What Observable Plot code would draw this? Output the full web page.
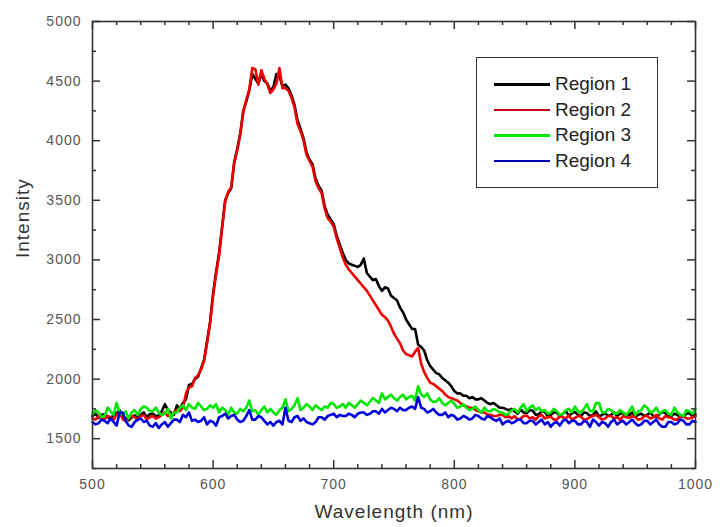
<!DOCTYPE html>
<html>
<head>
<meta charset="utf-8">
<script src="https://cdn.jsdelivr.net/npm/d3@7"></script>
<script src="https://cdn.jsdelivr.net/npm/@observablehq/plot@0.6"></script>
<style>
  body { margin: 0; background: #fff; }
  #wrap { position: relative; width: 720px; height: 527px; }
  #legend {
    position: absolute; left: 476px; top: 57px; width: 182px; height: 131px;
    border: 1.5px solid #333; background: #fff; box-sizing: border-box;
    font-family: "Liberation Sans", Arial, sans-serif; font-size: 19px; color: #222;
  }
  .row { position: absolute; left: 0; height: 24px; width: 100%; }
  .row .sw { position: absolute; left: 17px; top: 11px; width: 56px; height: 2.5px; }
  .row .lb { position: absolute; left: 78px; top: 0; line-height: 24px; }
</style>
</head>
<body>
<div id="wrap"><div id="chart"></div><div id="legend"></div></div>
<script>
// Wavelength grid (nm), 2.5 nm sampling
const wavelength = d3.range(500, 1001, 2.5);

const seriesNames = ["Region 1", "Region 2", "Region 3", "Region 4"];
const seriesColors = ["#000000", "#ee0000", "#00e600", "#0000dd"];
const legendColors = ["#000000", "#c00018", "#00e600", "#0000b0"];

// each row = 25 nm (10 samples)
const region1 = [
  1690, 1710, 1675, 1700, 1705, 1680, 1665, 1700, 1715, 1740,
  1690, 1670, 1655, 1680, 1695, 1670, 1700, 1720, 1680, 1705,
  1710, 1690, 1695, 1730, 1790, 1740, 1720, 1700, 1780, 1750,
  1800, 1830, 1950, 1960, 2000, 2020, 2090, 2160, 2320, 2480,
  2720, 2900, 3060, 3280, 3500, 3560, 3600, 3820, 3930, 4060,
  4250, 4330, 4420, 4560, 4520, 4480, 4560, 4500, 4480, 4420,
  4450, 4560, 4540, 4460, 4470, 4440, 4380, 4300, 4170, 4100,
  4020, 3900, 3840, 3800, 3680, 3620, 3580, 3450, 3380, 3340,
  3300, 3200, 3130, 3060, 3000, 2970, 2960, 2950, 2940, 2960,
  3010, 2890, 2860, 2830, 2840, 2780, 2740, 2770, 2760, 2700,
  2680, 2660, 2600, 2560, 2500, 2460, 2420, 2420, 2290, 2270,
  2240, 2160, 2110, 2080, 2050, 2040, 2010, 1990, 1970, 1940,
  1900, 1880, 1880, 1860, 1860, 1840, 1850, 1830, 1830, 1840,
  1820, 1800, 1790, 1800, 1780, 1760, 1760, 1750, 1740, 1750,
  1730, 1710, 1745, 1720, 1715, 1740, 1735, 1700, 1705, 1730,
  1725, 1690, 1700, 1720, 1720, 1690, 1710, 1730, 1695, 1710,
  1725, 1700, 1690, 1720, 1715, 1690, 1700, 1730, 1685, 1700,
  1715, 1690, 1700, 1720, 1690, 1710, 1715, 1690, 1700, 1720,
  1685, 1700, 1710, 1690, 1700, 1720, 1690, 1680, 1705, 1725,
  1715, 1690, 1690, 1710, 1700, 1680, 1685, 1710, 1715, 1690,
  1705
];
const region2 = [
  1670, 1660, 1690, 1675, 1665, 1690, 1680, 1660, 1700, 1720,
  1665, 1650, 1670, 1690, 1680, 1660, 1690, 1700, 1660, 1680,
  1690, 1670, 1680, 1700, 1720, 1690, 1700, 1720, 1740, 1730,
  1760, 1880, 1930, 1940, 2010, 2030, 2080, 2150, 2300, 2470,
  2700, 2880, 3040, 3270, 3490, 3570, 3610, 3810, 3920, 4050,
  4240, 4340, 4430, 4610, 4600, 4470, 4590, 4520, 4470, 4400,
  4430, 4480, 4610, 4440, 4440, 4420, 4360, 4280, 4140, 4080,
  4000, 3880, 3830, 3780, 3660, 3600, 3560, 3430, 3350, 3320,
  3280, 3180, 3100, 3020, 2960, 2920, 2890, 2860, 2830, 2800,
  2770, 2740, 2700, 2660, 2620, 2580, 2540, 2520, 2490, 2440,
  2380, 2340, 2300, 2240, 2210, 2200, 2190, 2230, 2260, 2130,
  2060, 2010, 1970, 1960, 1940, 1920, 1900, 1870, 1850, 1840,
  1830, 1820, 1800, 1780, 1770, 1760, 1760, 1740, 1730, 1720,
  1720, 1700, 1700, 1690, 1690, 1700, 1700, 1680, 1690, 1670,
  1690, 1660, 1670, 1690, 1695, 1670, 1680, 1660, 1690, 1700,
  1670, 1680, 1685, 1660, 1660, 1690, 1680, 1670, 1695, 1660,
  1675, 1690, 1685, 1660, 1665, 1680, 1690, 1700, 1680, 1660,
  1670, 1690, 1690, 1670, 1680, 1660, 1690, 1680, 1675, 1690,
  1680, 1660, 1665, 1690, 1690, 1670, 1680, 1700, 1670, 1660,
  1690, 1680, 1675, 1660, 1660, 1690, 1685, 1670, 1670, 1680,
  1690
];
const region3 = [
  1700, 1740, 1720, 1680, 1690, 1760, 1730, 1700, 1800, 1720,
  1700, 1730, 1670, 1720, 1740, 1700, 1750, 1770, 1760, 1730,
  1730, 1760, 1720, 1700, 1710, 1750, 1670, 1720, 1720, 1760,
  1780, 1740, 1790, 1760, 1750, 1800, 1770, 1740, 1750, 1780,
  1760, 1790, 1720, 1760, 1740, 1700, 1760, 1720, 1710, 1750,
  1730, 1760, 1820, 1730, 1740, 1700, 1740, 1770, 1720, 1750,
  1720, 1700, 1740, 1760, 1830, 1730, 1750, 1780, 1840, 1740,
  1760, 1790, 1770, 1740, 1780, 1760, 1740, 1770, 1760, 1800,
  1790, 1760, 1770, 1790, 1760, 1800, 1780, 1760, 1790, 1820,
  1800, 1780, 1810, 1840, 1820, 1800, 1880, 1830, 1850, 1870,
  1840, 1820, 1850, 1870, 1830, 1850, 1860, 1820, 1940, 1870,
  1850, 1880, 1830, 1810, 1810, 1840, 1800, 1780, 1800, 1820,
  1790, 1760, 1770, 1790, 1760, 1740, 1750, 1770, 1740, 1720,
  1760, 1730, 1730, 1750, 1740, 1720, 1720, 1700, 1710, 1740,
  1750, 1720, 1760, 1790, 1730, 1760, 1780, 1740, 1760, 1730,
  1740, 1710, 1720, 1750, 1730, 1700, 1710, 1740, 1750, 1720,
  1770, 1730, 1720, 1750, 1790, 1730, 1730, 1800, 1800, 1720,
  1720, 1750, 1740, 1710, 1710, 1740, 1720, 1700, 1730, 1770,
  1700, 1730, 1740, 1780, 1760, 1720, 1730, 1760, 1710, 1730,
  1740, 1710, 1700, 1760, 1720, 1700, 1690, 1740, 1730, 1710,
  1750
];
const region4 = [
  1640, 1620, 1630, 1660, 1650, 1630, 1670, 1640, 1610, 1720,
  1720, 1650, 1610, 1600, 1640, 1660, 1670, 1640, 1650, 1610,
  1600, 1630, 1590, 1620, 1640, 1600, 1630, 1660, 1660, 1640,
  1700, 1680, 1720, 1650, 1660, 1640, 1650, 1680, 1620, 1650,
  1640, 1610, 1680, 1690, 1710, 1670, 1690, 1700, 1660, 1640,
  1650, 1690, 1740, 1660, 1660, 1690, 1680, 1650, 1620, 1640,
  1610, 1640, 1650, 1620, 1760, 1650, 1640, 1680, 1690, 1650,
  1670, 1640, 1630, 1620, 1640, 1680, 1680, 1660, 1690, 1700,
  1710, 1680, 1700, 1690, 1690, 1710, 1700, 1680, 1710, 1720,
  1720, 1700, 1710, 1730, 1730, 1710, 1750, 1720, 1740, 1760,
  1750, 1730, 1760, 1740, 1740, 1760, 1770, 1750, 1850, 1760,
  1750, 1720, 1730, 1750, 1720, 1700, 1700, 1720, 1680, 1700,
  1690, 1660, 1670, 1690, 1680, 1660, 1670, 1700, 1690, 1670,
  1660, 1690, 1680, 1660, 1650, 1670, 1620, 1640, 1650, 1630,
  1640, 1660, 1660, 1630, 1630, 1650, 1650, 1620, 1640, 1660,
  1620, 1640, 1600, 1630, 1640, 1610, 1650, 1660, 1630, 1650,
  1650, 1620, 1620, 1650, 1640, 1600, 1660, 1640, 1610, 1640,
  1630, 1600, 1640, 1660, 1620, 1640, 1650, 1620, 1640, 1660,
  1630, 1610, 1620, 1650, 1650, 1620, 1640, 1660, 1620, 1600,
  1600, 1640, 1640, 1620, 1630, 1660, 1650, 1620, 1620, 1650,
  1640
];
const seriesValues = [region1, region2, region3, region4];

const xMajor = [500, 600, 700, 800, 900, 1000];
const xMinor = [520, 540, 560, 580, 620, 640, 660, 680, 720, 740, 760, 780, 820, 840, 860, 880, 920, 940, 960, 980];
const yMajor = [1500, 2000, 2500, 3000, 3500, 4000, 4500, 5000];
const yMinor = [1250, 1750, 2250, 2750, 3250, 3750, 4250, 4750];

const data = seriesNames.flatMap((name, i) =>
  wavelength.map((w, j) => ({series: name, wl: w, v: seriesValues[i][j]}))
);

const W = 720, H = 527, mL = 92, mR = 25, mT = 21, mB = 59;
const pw = W - mL - mR, ph = H - mT - mB;
const tickCol = "#333";
const majorLen = 8, minorLen = 4;

const chart = Plot.plot({
  width: W, height: H,
  marginLeft: mL, marginRight: mR, marginTop: mT, marginBottom: mB,
  style: {fontFamily: "'Liberation Sans', Arial, sans-serif", background: "#fff"},
  x: {domain: [500, 1000]},
  y: {domain: [1250, 5000]},
  color: {domain: seriesNames, range: seriesColors},
  marks: [
    Plot.line(data, {x: "wl", y: "v", z: "series", stroke: "series", strokeWidth: 2.6, curve: "linear"}),
    Plot.frame({stroke: tickCol, strokeWidth: 1.6}),
    Plot.tickX(xMajor, {x: d => d, insetTop: ph - majorLen, stroke: tickCol, strokeWidth: 1.5}),
    Plot.tickX(xMinor, {x: d => d, insetTop: ph - minorLen, stroke: tickCol, strokeWidth: 1.5}),
    Plot.tickX(xMajor, {x: d => d, insetBottom: ph - majorLen, stroke: tickCol, strokeWidth: 1.5}),
    Plot.tickX(xMinor, {x: d => d, insetBottom: ph - minorLen, stroke: tickCol, strokeWidth: 1.5}),
    Plot.tickY(yMajor, {y: d => d, insetRight: pw - majorLen, stroke: tickCol, strokeWidth: 1.5}),
    Plot.tickY(yMinor, {y: d => d, insetRight: pw - minorLen, stroke: tickCol, strokeWidth: 1.5}),
    Plot.tickY(yMajor, {y: d => d, insetLeft: pw - majorLen, stroke: tickCol, strokeWidth: 1.5}),
    Plot.tickY(yMinor, {y: d => d, insetLeft: pw - minorLen, stroke: tickCol, strokeWidth: 1.5}),
    Plot.axisX({ticks: xMajor, tickSize: 0, tickPadding: 11, label: null, fontSize: 14, color: "#555", tickFormat: d => String(d)}),
    Plot.axisY({ticks: yMajor, tickSize: 0, tickPadding: 11, label: null, fontSize: 14, color: "#555", tickFormat: d => String(d)}),
    Plot.text(["Wavelength (nm)"], {frameAnchor: "bottom", dy: 49, fontSize: 19, fill: "#333"}),
    Plot.text(["Intensity"], {frameAnchor: "left", dx: -70, dy: 13, rotate: -90, fontSize: 19, fill: "#333"})
  ]
});
chart.querySelectorAll("text").forEach(t => t.style.letterSpacing = "1px");
document.getElementById("chart").appendChild(chart);

const legend = document.getElementById("legend");
seriesNames.forEach((name, i) => {
  const row = document.createElement("div");
  row.className = "row";
  row.style.top = (14 + i * 25.5) + "px";
  row.innerHTML = `<span class="sw" style="background:${legendColors[i]}"></span><span class="lb">${name}</span>`;
  legend.appendChild(row);
});
</script>
</body>
</html>
